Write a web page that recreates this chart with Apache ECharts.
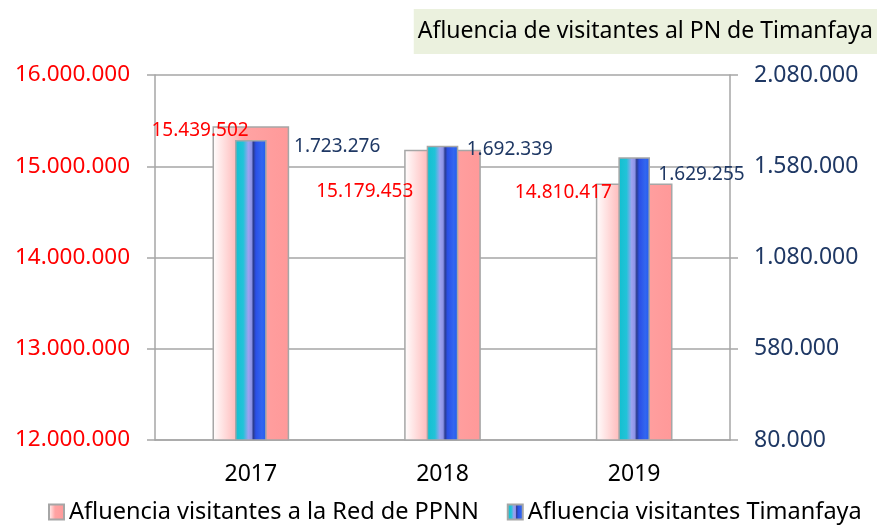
<!DOCTYPE html>
<html>
<head>
<meta charset="utf-8">
<script src="https://cdn.jsdelivr.net/npm/echarts@6/dist/echarts.min.js"></script>
<style>
  html, body { margin: 0; padding: 0; background: #fff; }
  #chart { width: 877px; height: 526px; }
</style>
</head>
<body>
<div id="chart"></div>
<script>
const years = ['2017', '2018', '2019'];
const redPPNN = [15439502, 15179453, 14810417];
const timanfaya = [1723276, 1692339, 1629255];
const leftTicks = [12000000, 16000000, 1000000];   // min, max, interval
const rightTicks = [80000, 2080000];               // min, max

// label placement (px from bar's top-left corner), moved by hand like in the original
const redLabelPos = [[-61, 4], [-88, 42], [-81, 9]];
const blueLabelPos = [[59, 6], [40, 4], [40, 17]];

const font = 'Noto Sans';
const grey = '#a6a6a6';
const navy = '#1f3864';

function fmt(v) {
  return Math.round(v).toString().replace(/\B(?=(\d{3})+(?!\d))/g, '.');
}

const pinkFill = new echarts.graphic.LinearGradient(0, 0, 1, 0, [
  { offset: 0, color: '#ffffff' },
  { offset: 0.42, color: '#ffa3a3' },
  { offset: 1, color: '#ff9999' }
]);
const blueFill = new echarts.graphic.LinearGradient(0, 0, 1, 0, [
  { offset: 0, color: '#12bfcf' },
  { offset: 0.26, color: '#22c3d8' },
  { offset: 0.42, color: '#9da2f0' },
  { offset: 0.52, color: '#8c93e6' },
  { offset: 0.58, color: '#2b3b8e' },
  { offset: 0.66, color: '#2a4fe6' },
  { offset: 0.85, color: '#3366f0' },
  { offset: 1, color: '#1f5cef' }
]);

let chart = echarts.init(document.getElementById('chart'));
chart.setOption({
  textStyle: { fontFamily: font },
  animation: false,
  title: {
    text: 'Afluencia de visitantes al PN de Timanfaya',
    right: 0,
    top: 9,
    backgroundColor: '#ebf1de',
    padding: [11, 4, 11, 4],
    textStyle: { fontFamily: font, fontSize: 23, fontWeight: 'normal', color: '#000', lineHeight: 23 }
  },
  legend: {
    bottom: 2,
    left: 48,
    padding: 0,
    itemWidth: 15,
    itemHeight: 15,
    itemGap: 28,
    icon: 'rect',
    textStyle: { fontFamily: font, fontSize: 23.5, color: '#000' },
    data: ['Afluencia visitantes a la Red de PPNN', 'Afluencia visitantes Timanfaya']
  },
  grid: { left: 155, right: 147, top: 75, bottom: 86 },
  xAxis: [
    {
      type: 'category',
      data: years,
      axisLine: { lineStyle: { color: grey, width: 1.5 } },
      axisTick: { length: 8, lineStyle: { color: grey, width: 1.5 } },
      axisLabel: { color: '#000', fontSize: 23, margin: 23 }
    },
    { type: 'category', data: years, show: false }
  ],
  yAxis: [
    {
      type: 'value',
      min: leftTicks[0],
      max: leftTicks[1],
      interval: leftTicks[2],
      axisLine: { show: true, lineStyle: { color: grey, width: 1.5 } },
      axisTick: { show: true, length: 8, lineStyle: { color: grey, width: 1.5 } },
      splitLine: { lineStyle: { color: grey, width: 1.5 } },
      axisLabel: { color: '#ff0000', fontSize: 22.5, margin: 25, formatter: fmt }
    },
    {
      type: 'value',
      min: rightTicks[0],
      max: rightTicks[1],
      alignTicks: true,
      axisLine: { show: true, lineStyle: { color: grey, width: 1.5 } },
      axisTick: { show: true, length: 8, lineStyle: { color: grey, width: 1.5 } },
      splitLine: { show: false },
      axisLabel: { color: navy, fontSize: 23, margin: 24, formatter: fmt }
    }
  ],
  series: [
    {
      name: 'Afluencia visitantes a la Red de PPNN',
      type: 'bar',
      xAxisIndex: 0,
      yAxisIndex: 0,
      barWidth: '40%',
      itemStyle: { color: pinkFill, borderColor: grey, borderWidth: 1.5 },
      data: redPPNN.map((v, i) => ({
        value: v,
        label: {
          show: true,
          position: redLabelPos[i],
          align: 'left',
          verticalAlign: 'middle',
          color: '#ff0000',
          fontSize: 19,
          fontFamily: font,
          formatter: p => fmt(p.value)
        }
      }))
    },
    {
      name: 'Afluencia visitantes Timanfaya',
      type: 'bar',
      xAxisIndex: 1,
      yAxisIndex: 1,
      barWidth: '16.5%',
      itemStyle: { color: blueFill, borderColor: grey, borderWidth: 1.5 },
      data: timanfaya.map((v, i) => ({
        value: v,
        label: {
          show: true,
          position: blueLabelPos[i],
          align: 'left',
          verticalAlign: 'middle',
          color: navy,
          fontSize: 19,
          fontFamily: font,
          formatter: p => fmt(p.value)
        }
      }))
    }
  ]
});
window.addEventListener('resize', function () {
  chart.resize();
});
</script>
</body>
</html>
